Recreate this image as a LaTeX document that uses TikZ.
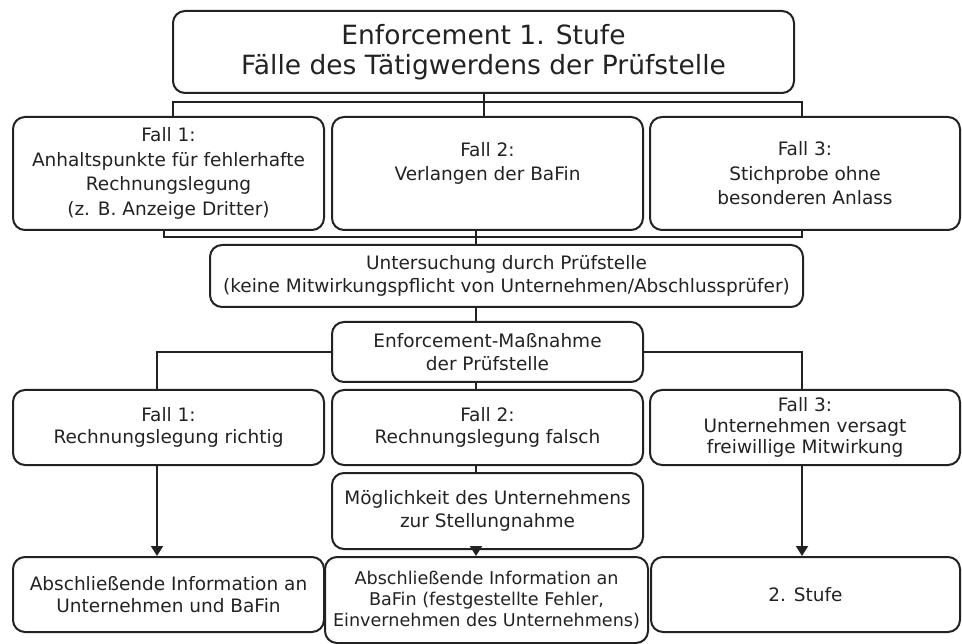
\documentclass[tikz,border=0pt]{standalone}
\usepackage{fontspec}
\setmainfont{DejaVu Sans}
\usetikzlibrary{arrows.meta}
\definecolor{ink}{HTML}{222222}
\tikzset{
  box/.style={draw=ink, line width=2pt, rounded corners=12pt, align=center, inner sep=0pt, text=ink, font=\fontsize{18.5}{22.5}\selectfont},
  wide/.style={font=\fontsize{18.5}{24.5}\selectfont},
  tight/.style={font=\fontsize{18.5}{21}\selectfont},
  small/.style={font=\fontsize{17.6}{21}\selectfont},
  conn/.style={draw=ink, line width=2pt},
  arr/.style={conn, -{Triangle[length=10pt,width=12pt]}}
}
\newcommand{\mybox}[6][]{% opts, name, x1, y1, x2, y2 ; text follows
  \node[box, #1, minimum width={#5-#3}, minimum height={#6-#4}] (#2) at ({(#3+#5)/2},{-(#4+#6)/2})}
\begin{document}
\begin{tikzpicture}[x=1pt,y=1pt]
\useasboundingbox (0,0) rectangle (962,-644);
\node[box, minimum width=621, minimum height=82, font=\fontsize{26.5}{30}\selectfont] (top) at (483.5,-52) {Enforcement 1. Stufe\\Fälle des Tätigwerdens der Prüfstelle};
\mybox[wide]{f1}{13}{117}{324}{230} {Fall 1:\\Anhaltspunkte für fehlerhafte\\Rechnungslegung\\(z. B. Anzeige Dritter)};
\mybox[wide]{f2}{332}{117}{643}{230} {Fall 2:\\Verlangen der BaFin\\\mbox{}};
\mybox[wide]{f3}{650}{117}{960}{230} {Fall 3:\\Stichprobe ohne\\besonderen Anlass};
\mybox{unt}{210}{245}{803}{307} {Untersuchung durch Prüfstelle\\(keine Mitwirkungspflicht von Unternehmen/Abschlussprüfer)};
\mybox{mass}{332}{322}{643}{382} {Enforcement-Maßnahme\\der Prüfstelle};
\mybox{g1}{13}{390}{324}{465} {Fall 1:\\Rechnungslegung richtig};
\mybox{g2}{332}{390}{643}{465} {Fall 2:\\Rechnungslegung falsch};
\mybox[tight]{g3}{650}{390}{960}{465} {Fall 3:\\Unternehmen versagt\\freiwillige Mitwirkung};
\mybox{mog}{332}{473}{643}{549} {Möglichkeit des Unternehmens\\zur Stellungnahme};
\mybox{a1}{13}{557}{324}{632} {Abschließende Information an\\Unternehmen und BaFin};
\mybox[small]{a2}{325}{557}{648}{643} {Abschließende Information an\\BaFin (festgestellte Fehler,\\Einvernehmen des Unternehmens)};
\mybox{s2}{651}{557}{960}{632} {2. Stufe};
% helper coordinates
\coordinate (b1) at (173,-102);
\coordinate (b2) at (802,-102);
\coordinate (c1) at (164,-237);
\coordinate (c2) at (802,-237);
\coordinate (mx) at (476,0);
\coordinate (d1) at (157,-352);
\coordinate (d2) at (802,-352);
% connectors
\draw[conn] (top.south) -- (f2.north -| top.south);
\draw[conn] (f1.north -| b1) -- (b1) -- (b2) -- (f3.north -| b2);
\draw[conn] (f1.south -| c1) -- (c1) -- (c2) -- (f3.south -| c2);
\draw[conn] (f2.south -| mx) -- (unt.north -| mx);
\draw[conn] (unt.south -| mx) -- (mass.north -| mx);
\draw[conn] (mass.west) -- (d1) -- (g1.north -| d1);
\draw[conn] (mass.east) -- (d2) -- (g3.north -| d2);
\draw[conn] (mass.south -| mx) -- (g2.north -| mx);
\draw[conn] (g2.south -| mx) -- (mog.north -| mx);
\draw[arr] (mog.south -| mx) -- (a2.north -| mx);
\draw[arr] (g1.south -| d1) -- (a1.north -| d1);
\draw[arr] (g3.south -| d2) -- (s2.north -| d2);
\end{tikzpicture}
\end{document}
